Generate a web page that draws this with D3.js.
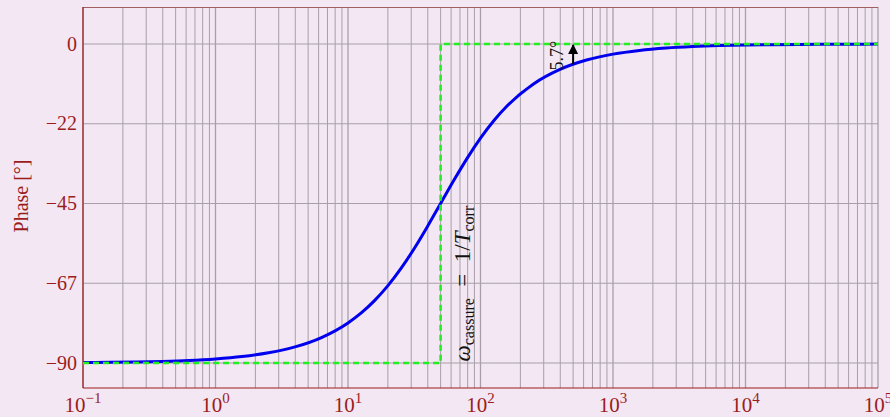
<!DOCTYPE html>
<html><head><meta charset="utf-8">
<script src="https://cdn.jsdelivr.net/npm/d3@7"></script>
<style>
html,body{margin:0;padding:0;background:#f2e7f2;}
svg{display:block;font-family:"Liberation Serif","DejaVu Serif",serif;}
</style></head>
<body><svg id="c" width="890" height="417"></svg>
<script>
// Phase response data (rad/s -> degrees)
const omega = [0.1,0.1585,0.2512,0.3981,0.631,1,1.585,2.512,3.981,6.31,10,12.59,15.85,19.95,25.12,31.62,39.81,50,63.1,79.43,100,125.9,158.5,251.2,398.1,631,1000,1585,2512,3981,6310,10000,15850,25120,39810,63100,100000];
const phase = [-89.89,-89.82,-89.71,-89.54,-89.28,-88.85,-88.18,-87.12,-85.45,-82.81,-78.69,-75.87,-72.41,-68.25,-63.33,-57.69,-51.47,-45,-38.39,-32.19,-26.57,-21.66,-17.51,-11.26,-7.16,-4.53,-2.86,-1.81,-1.14,-0.72,-0.45,-0.29,-0.18,-0.11,-0.07,-0.05,-0.03];
// Asymptotic approximation
const asymOmega = [0.1,50,50,100000];
const asymPhase = [-90,-90,0,0];
const cornerOmega = 50;
const arrowOmega = 500;
const arrowPhase = [-5.7,0];
const yTicks = [0,-22.5,-45,-67.5,-90];
const yTickLabels = ["0","\u221222","\u221245","\u221267","\u221290"];
const xDecades = [-1,0,1,2,3,4,5];

const svg = d3.select("#c");
const L=83,R=878,T=7,B=388;
const x = d3.scaleLog().domain([0.1,1e5]).range([L,R]);
const y = d3.scaleLinear().domain([-97.05,10.44]).range([B,T]);
const axisCol="#9c1c1c", gridCol="#a89fa8";

svg.append("rect").attr("width",890).attr("height",417).attr("fill","#f2e7f2");

// vertical grid
const minor=[];
for(let e=-1;e<5;e++){for(let k=1;k<10;k++){minor.push(k*Math.pow(10,e));}}
minor.push(1e5);
svg.append("g").selectAll("line").data(minor).join("line")
 .attr("x1",d=>x(d)).attr("x2",d=>x(d)).attr("y1",T).attr("y2",B)
 .attr("stroke",gridCol).attr("stroke-width",d=>Math.abs(Math.log10(d)%1)<1e-9?1.3:1);
// horizontal grid
svg.append("g").selectAll("line").data(yTicks).join("line")
 .attr("x1",L).attr("x2",R).attr("y1",d=>y(d)).attr("y2",d=>y(d))
 .attr("stroke",gridCol).attr("stroke-width",1.2);

// frame
svg.append("line").attr("x1",L).attr("x2",R).attr("y1",T+0.5).attr("y2",T+0.5).attr("stroke","#a06060").attr("stroke-width",1);
svg.append("line").attr("x1",L).attr("x2",L).attr("y1",T).attr("y2",B).attr("stroke",axisCol).attr("stroke-width",1.2);
svg.append("line").attr("x1",L).attr("x2",R).attr("y1",B).attr("y2",B).attr("stroke",axisCol).attr("stroke-width",1.2);

// y tick labels
svg.append("g").selectAll("text").data(yTicks).join("text")
 .attr("x",L-6).attr("y",d=>y(d)+6.5).attr("text-anchor","end")
 .attr("fill",axisCol).attr("font-size",20).text((d,i)=>yTickLabels[i]);
// x tick labels
const xl=svg.append("g").selectAll("text").data(xDecades).join("text")
 .attr("x",d=>x(Math.pow(10,d))).attr("y",412).attr("text-anchor","middle")
 .attr("fill",axisCol).attr("font-size",21);
xl.append("tspan").text("10");
xl.append("tspan").attr("dy",-9).attr("font-size",15).text(d=>d<0?"\u2212"+(-d):d);

// y axis label
svg.append("text").attr("transform","translate(28,196) rotate(-90)").attr("text-anchor","middle")
 .attr("fill",axisCol).attr("font-size",20).text("Phase [°]");

// exact curve
const pts = omega.map((w,i)=>[w,phase[i]]);
svg.append("path").datum(pts)
 .attr("d",d3.line().x(d=>x(d[0])).y(d=>y(d[1])).curve(d3.curveMonotoneX))
 .attr("fill","none").attr("stroke","#0000ee").attr("stroke-width",3);

// asymptote
const apts = asymOmega.map((w,i)=>[w,asymPhase[i]]);
svg.append("path").datum(apts)
 .attr("d",d3.line().x(d=>x(d[0])).y(d=>y(d[1])))
 .attr("fill","none").attr("stroke","#22ee22").attr("stroke-width",2.6).attr("stroke-dasharray","6,4");

// corner label
const ct = svg.append("text").attr("transform",`translate(${x(cornerOmega)+29},${y(-67.6)}) rotate(-90)`)
 .attr("text-anchor","middle").attr("fill","#111").attr("font-size",23);
ct.append("tspan").attr("font-style","italic").text("\u03c9");
ct.append("tspan").attr("font-size",16).attr("dy",4).text("cassure");
ct.append("tspan").attr("dy",-4).text("\u2002=\u20021/");
ct.append("tspan").attr("font-style","italic").text("T");
ct.append("tspan").attr("font-size",16).attr("dy",4).text("corr");

// arrow
svg.append("defs").append("marker").attr("id","ah").attr("viewBox","0 0 10 10")
 .attr("refX",9).attr("refY",5).attr("markerWidth",5).attr("markerHeight",6).attr("orient","auto")
 .append("path").attr("d","M0,0 L10,5 L0,10 z").attr("fill","#000");
svg.append("line").attr("x1",x(arrowOmega)).attr("x2",x(arrowOmega))
 .attr("y1",y(arrowPhase[0])).attr("y2",y(arrowPhase[1])+1)
 .attr("stroke","#000").attr("stroke-width",2).attr("marker-end","url(#ah)");
svg.append("text").attr("transform",`translate(${x(arrowOmega)-10},${y(-3.3)}) rotate(-90)`)
 .attr("text-anchor","middle").attr("fill","#111").attr("font-size",18).text("5.7°");
</script></body></html>
